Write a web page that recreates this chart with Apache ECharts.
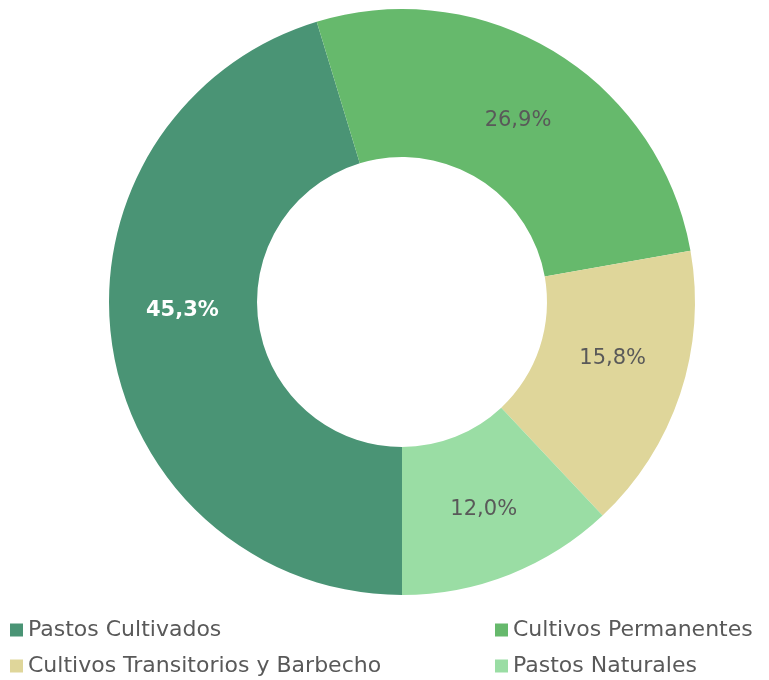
<!DOCTYPE html>
<html>
<head>
<meta charset="utf-8">
<script src="https://cdn.jsdelivr.net/npm/echarts@6/dist/echarts.min.js"></script>
<style>
    html, body { margin: 0; padding: 0; background: #fff; }
    #main { width: 769px; height: 680px; }
</style>
</head>
<body>
<div id="main"></div>
<script>
var categories = ['Pastos Cultivados', 'Cultivos Permanentes', 'Cultivos Transitorios y Barbecho', 'Pastos Naturales'];
var values = [45.3, 26.9, 15.8, 12.0];
var colors = ['#4a9475', '#66b96c', '#dfd69a', '#9adda4'];
// desplazamiento vertical de cada etiqueta (px, + hacia abajo) para parecerse a Excel
var labelShift = [-24, 8, -13, 1];

var myChart = echarts.init(document.getElementById('main'));

var data = [];
for (var i = 0; i < categories.length; i++) {
    var item = {
        name: categories[i],
        value: values[i],
        itemStyle: { color: colors[i] }
    };
    if (i === 0) {
        item.label = {
            rich: { t: { color: '#ffffff', fontWeight: 'bold', fontSize: 21, fontFamily: 'DejaVu Sans' } }
        };
    }
    data.push(item);
}

function fmtLabel(p) {
    var txt = '{t|' + p.value.toFixed(1).replace('.', ',') + '%}';
    var s = labelShift[p.dataIndex];
    var gap = '{s' + '|}';
    if (s < 0) {
        return txt + '\n{g' + Math.abs(s * 2) + '|}';
    } else if (s > 0) {
        return '{g' + (s * 2) + '|}\n' + txt;
    }
    return txt;
}

// estilos rich para los espaciadores
var richStyles = {
    t: { color: '#595959', fontSize: 21, fontFamily: 'DejaVu Sans' }
};
for (var k = 0; k < labelShift.length; k++) {
    var h = Math.abs(labelShift[k] * 2);
    if (h) {
        richStyles['g' + h] = { height: h, lineHeight: h };
    }
}

var legendText = { color: '#595959', fontSize: 22, fontFamily: 'DejaVu Sans' };
// posiciones de la leyenda en dos columnas
var legendPos = [[10, 619], [495, 619], [10, 655], [495, 655]];

var legends = [];
for (var j = 0; j < categories.length; j++) {
    legends.push({
        orient: 'horizontal',
        left: legendPos[j][0],
        top: legendPos[j][1],
        padding: 0,
        itemWidth: 13,
        itemHeight: 13,
        itemGap: 5,
        icon: 'rect',
        textStyle: legendText,
        data: [categories[j]]
    });
}

var option = {
    animation: false,
    legend: legends,
    series: [{
        type: 'pie',
        center: [402, 302],
        radius: [145, 293],
        startAngle: -90,
        clockwise: true,
        label: {
            position: 'inside',
            color: '#595959',
            fontSize: 21,
            fontFamily: 'DejaVu Sans',
            formatter: fmtLabel,
            rich: richStyles
        },
        labelLine: { show: false },
        emphasis: { disabled: true },
        data: data
    }]
};

myChart.setOption(option);
</script>
</body>
</html>
